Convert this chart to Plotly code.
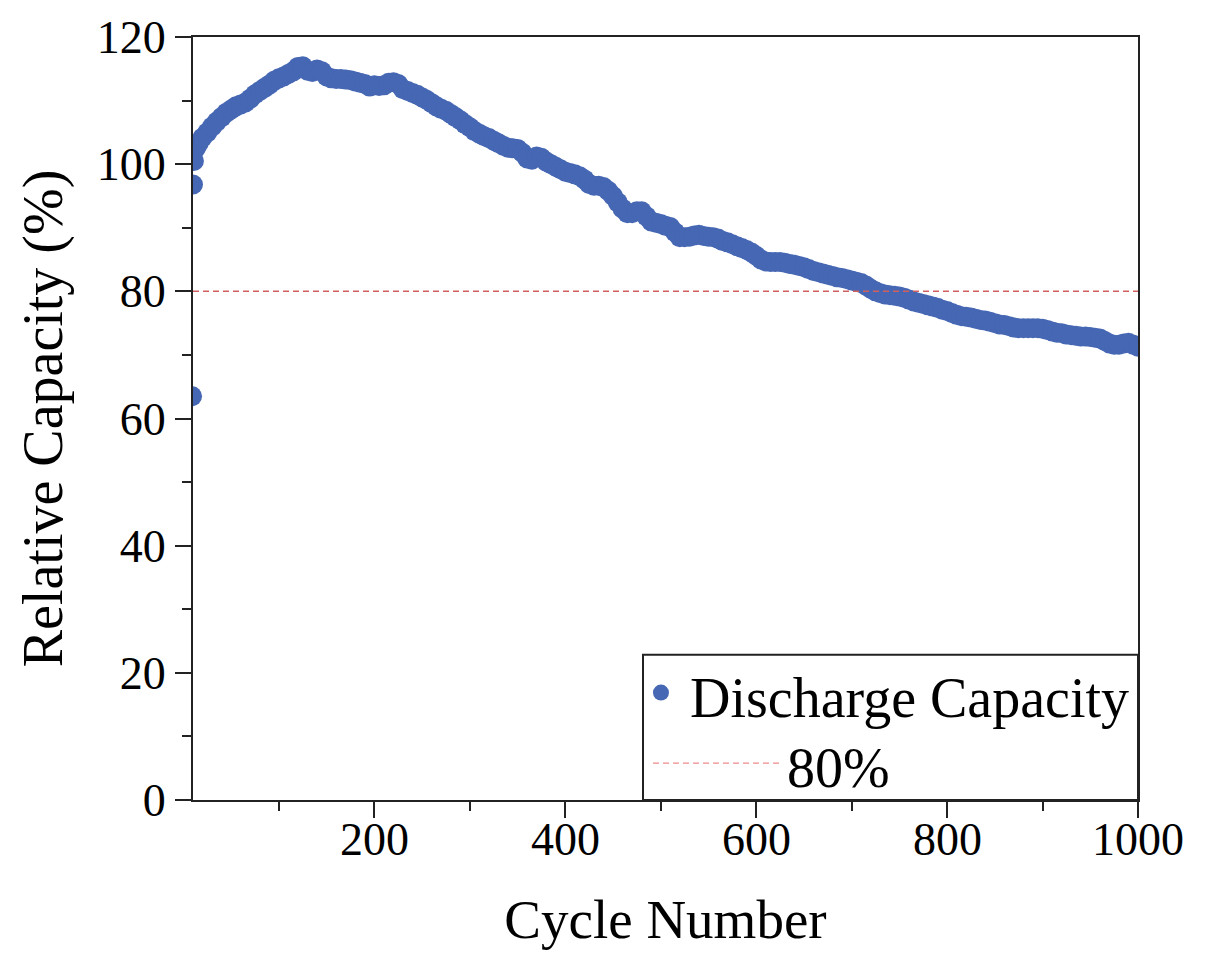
import plotly.graph_objects as go

# Discharge capacity retention vs. cycle number
cycles = [9, 10, 11, 13, 16] + list(range(20, 1001, 5))
capacity = [
    63.5, 96.8, 100.5, 102.5, 103.3,
    104.2, 105.0, 105.9, 106.7, 107.4, 108.1, 108.6, 109.1, 109.4, 109.7,   # 20-65
    110.3, 111.0, 111.5, 112.0, 112.5, 113.1, 113.5, 113.8, 114.2, 114.6,   # 70-115
    115.3, 115.4, 114.7, 114.5, 114.9, 114.6, 113.8, 113.5, 113.4, 113.4,   # 120-165
    113.3, 113.2, 113.0, 112.8, 112.6, 112.2, 112.4, 112.3, 112.4, 112.8,   # 170-215
    112.9, 112.6, 111.8, 111.5, 111.2, 110.9, 110.5, 110.1, 109.6, 109.1,   # 220-265
    108.7, 108.4, 107.9, 107.4, 106.9, 106.3, 105.8, 105.2, 104.8, 104.4,   # 270-315
    104.1, 103.7, 103.3, 102.9, 102.6, 102.5, 102.4, 101.8, 100.9, 100.7,   # 320-365
    101.2, 101.0, 100.4, 100.0, 99.6, 99.2, 98.8, 98.6, 98.4, 98.1,         # 370-415
    97.6, 96.9, 96.6, 96.6, 96.4, 95.8, 95.0, 94.0, 93.0, 92.3,             # 420-465
    92.3, 92.6, 92.6, 91.8, 91.0, 90.8, 90.6, 90.3, 90.1, 89.3,             # 470-515
    88.5, 88.5, 88.6, 88.8, 88.9, 88.7, 88.6, 88.5, 88.3, 87.9,             # 520-565
    87.7, 87.4, 87.1, 86.8, 86.5, 86.1, 85.6, 85.0, 84.7, 84.6,             # 570-615
    84.6, 84.6, 84.5, 84.3, 84.2, 84.0, 83.8, 83.5, 83.2, 83.0,             # 620-665
    82.8, 82.6, 82.4, 82.2, 82.1, 81.9, 81.7, 81.5, 81.3, 80.9,             # 670-715
    80.4, 80.0, 79.7, 79.5, 79.4, 79.3, 79.2, 79.0, 78.7, 78.4,             # 720-765
    78.2, 78.0, 77.8, 77.6, 77.4, 77.1, 76.9, 76.6, 76.3, 76.1,             # 770-815
    76.0, 75.9, 75.7, 75.5, 75.4, 75.2, 75.0, 74.8, 74.7, 74.5,             # 820-865
    74.3, 74.2, 74.2, 74.2, 74.2, 74.2, 74.1, 73.9, 73.7, 73.5,             # 870-915
    73.4, 73.2, 73.1, 73.0, 72.9, 72.9, 72.8, 72.7, 72.6, 72.2,             # 920-965
    71.8, 71.6, 71.6, 71.8, 71.9, 71.6, 71.3,                               # 970-1000
]
assert len(cycles) == len(capacity)

threshold_x = [10, 1000]
threshold_pct = 80

x_ticks = [200, 400, 600, 800, 1000]
x_tick_labels = ["200", "400", "600", "800", "1000"]

series_names = ["Discharge Capacity", "80%"]

BLUE = "#4667B3"
RED = "#d06060"
AXIS = "#222222"
FONT = "Liberation Serif"

fig = go.Figure()

fig.add_trace(go.Scatter(
    x=cycles, y=capacity, mode="markers", name=series_names[0],
    marker=dict(size=20, color=BLUE, line=dict(width=0)),
    showlegend=False,
))

fig.add_trace(go.Scatter(
    x=threshold_x, y=[threshold_pct] * len(threshold_x), mode="lines",
    name=series_names[1],
    line=dict(color=RED, width=1.5, dash="6px,4px"),
    showlegend=False,
))

axis_common = dict(
    showline=True, linewidth=2, linecolor=AXIS, mirror=True,
    ticks="outside", ticklen=16, tickwidth=2, tickcolor=AXIS,
    showgrid=False, zeroline=False,
    tickfont=dict(family=FONT, size=46, color="black"),
)

# x tick labels sit close under the ticks, so they are placed as annotations
fig.update_xaxes(
    range=[10, 1000], tickvals=x_ticks, showticklabels=False,
    minor=dict(tick0=0, dtick=100, ticks="outside", ticklen=9,
               tickwidth=2, tickcolor=AXIS, showgrid=False),
    title=dict(text="Cycle Number", font=dict(family=FONT, size=55, color="black"),
               standoff=82),
    **axis_common,
)
fig.update_yaxes(
    range=[0, 120], tick0=0, dtick=20,
    minor=dict(tick0=0, dtick=10, ticks="outside", ticklen=9,
               tickwidth=2, tickcolor=AXIS, showgrid=False),
    title=dict(text="Relative Capacity (%)", font=dict(family=FONT, size=56, color="black"),
               standoff=16),
    **axis_common,
)

# Legend panel in the lower-right corner of the plot
lx0, ly1 = 0.4762, 0.1903
shapes = [
    dict(type="rect", xref="paper", yref="paper", x0=lx0, x1=1.0, y0=0.0, y1=ly1,
         line=dict(color=AXIS, width=2), fillcolor="white", layer="above"),
    dict(type="circle", xref="paper", yref="paper", xsizemode="pixel", ysizemode="pixel",
         xanchor=0.4952, yanchor=0.1408, x0=-8, x1=8, y0=-8, y1=8,
         fillcolor=BLUE, line=dict(width=0), layer="above"),
    dict(type="line", xref="paper", yref="paper", x0=0.4868, x1=0.6233, y0=0.0482, y1=0.0482,
         line=dict(color="#ee8a8a", width=1.2, dash="6px,4px"), layer="above"),
]
annotations = [
    dict(xref="paper", yref="paper", x=0.5238, y=0.1343, xanchor="left", yanchor="middle",
         text=series_names[0], showarrow=False,
         font=dict(family=FONT, size=56, color="black")),
    dict(xref="paper", yref="paper", x=0.6265, y=0.0417, xanchor="left", yanchor="middle",
         text=series_names[1], showarrow=False,
         font=dict(family=FONT, size=56, color="black")),
]
for xv, lab in zip(x_ticks, x_tick_labels):
    annotations.append(dict(
        xref="x", yref="paper", x=xv, y=-0.0175, xanchor="center", yanchor="top",
        text=lab, showarrow=False, borderpad=0,
        font=dict(family=FONT, size=46, color="black"),
    ))

fig.update_layout(
    width=1205, height=956,
    margin=dict(l=193, r=67, t=33, b=156),
    paper_bgcolor="white", plot_bgcolor="white",
    shapes=shapes, annotations=annotations,
    showlegend=False,
)

fig.write_html("out.html")
